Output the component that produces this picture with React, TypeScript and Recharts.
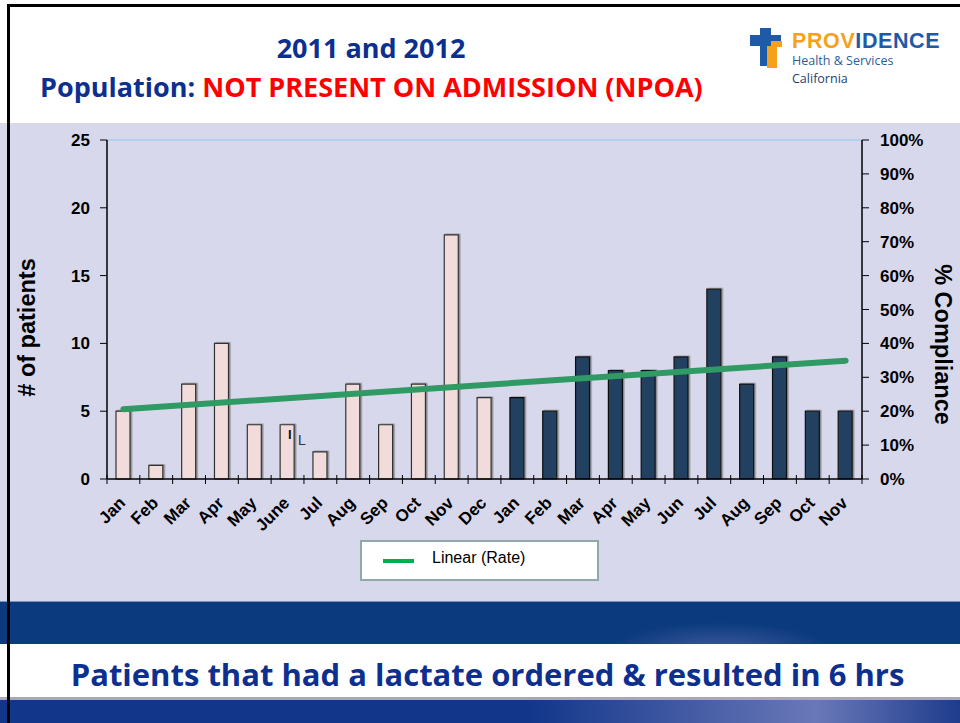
import React from 'react';
import { ComposedChart, Bar, Line, XAxis, YAxis, Cell, ReferenceLine, Legend, Label } from 'recharts';

const monthLabels2011 = ['Jan', 'Feb', 'Mar', 'Apr', 'May', 'June', 'Jul', 'Aug', 'Sep', 'Oct', 'Nov', 'Dec'];
const monthLabels2012 = ['Jan', 'Feb', 'Mar', 'Apr', 'May', 'Jun', 'Jul', 'Aug', 'Sep', 'Oct', 'Nov'];
const patients2011 = [5, 1, 7, 10, 4, 4, 2, 7, 4, 7, 18, 6];
const patients2012 = [6, 5, 9, 8, 8, 9, 14, 7, 9, 5, 5];
const trendStart = 20.6; // % compliance at first month
const trendEnd = 34.9; // % compliance at last month
const leftTicks = [0, 5, 10, 15, 20, 25];
const rightTicks = [0, 10, 20, 30, 40, 50, 60, 70, 80, 90, 100];

const COLOR_2011 = '#f2dcdb';
const COLOR_2012 = '#243f60';
const TREND = '#2f9a63';
const FONT = '"Liberation Sans", Arial, sans-serif';
const NARROW = '"Open Sans", "Liberation Sans", Arial, sans-serif';

type Row = { key: string; label: string; year: number; patients: number; trend: number | null };

const rows: Row[] = [
  ...monthLabels2011.map((m, i) => ({ key: `${m}-2011`, label: m, year: 2011, patients: patients2011[i], trend: null as number | null })),
  ...monthLabels2012.map((m, i) => ({ key: `${m}-2012`, label: m, year: 2012, patients: patients2012[i], trend: null as number | null })),
];
rows[0].trend = trendStart;
rows[rows.length - 1].trend = trendEnd;

const XTick = (props: any) => {
  const { x, y, payload, index } = props;
  const half = 755 / rows.length / 2;
  const i = payload.index ?? index;
  const label = rows[i]?.label ?? '';
  const isLast = i === rows.length - 1;
  return (
    <g>
      <line x1={x - half} x2={x - half} y1={y - 12} y2={y - 3} stroke="#000" strokeWidth={1} />
      {isLast && <line x1={x + half} x2={x + half} y1={y - 12} y2={y - 3} stroke="#000" strokeWidth={1} />}
      <text
        x={0}
        y={0}
        transform={`translate(${x + 3},${y + 17}) rotate(-45)`}
        textAnchor="end"
        fontFamily={FONT}
        fontWeight="bold"
        fontSize={17}
        fill="#000"
      >
        {label}
      </text>
    </g>
  );
};

const LegendBox = () => (
  <div
    style={{
      width: 235,
      height: 37,
      background: '#fff',
      border: '2px solid #8fa8a8',
      position: 'relative',
      fontFamily: FONT,
    }}
  >
    <div style={{ position: 'absolute', left: 21, top: 17, width: 31, height: 4, background: '#00b050' }} />
    <div style={{ position: 'absolute', left: 70, top: 7, fontSize: 16, color: '#000' }}>Linear (Rate)</div>
  </div>
);

export default function App() {
  return (
    <div style={{ position: 'absolute', left: 0, top: 0, width: 960, height: 723, overflow: 'hidden', background: '#fff' }}>
      {/* chart background */}
      <div style={{ position: 'absolute', left: 0, top: 123, width: 960, height: 478, background: '#d8d8ec' }} />
      {/* bottom bands */}
      <div
        style={{
          position: 'absolute', left: 0, top: 601, width: 960, height: 43,
          background: 'radial-gradient(ellipse 160px 40px at 720px 48px, #3d5a9c 0%, #0b3a7e 70%), #0b3a7e',
          borderTop: '1px solid #7d8fbf',
        }}
      />
      <div style={{ position: 'absolute', left: 0, top: 644, width: 960, height: 53, background: '#fff' }} />
      <div style={{ position: 'absolute', left: 0, top: 697, width: 960, height: 3, background: '#a9a9a9' }} />
      <div
        style={{
          position: 'absolute', left: 0, top: 700, width: 960, height: 23,
          background: 'linear-gradient(90deg, #12368a 0%, #12368a 55%, #6a78b8 85%, #1d3c8c 100%)',
        }}
      />
      <div
        style={{
          position: 'absolute', left: 0, top: 653, width: 975, textAlign: 'center',
          fontFamily: NARROW, fontWeight: 'bold', fontSize: 31, color: '#0d2f8f',
        }}
      >
        Patients that had a lactate ordered &amp; resulted in 6 hrs
      </div>

      {/* header */}
      <div
        style={{
          position: 'absolute', left: 0, top: 29, width: 742, textAlign: 'center',
          fontFamily: NARROW, fontWeight: 'bold', fontSize: 27, color: '#0d2f8f',
        }}
      >
        2011 and 2012
      </div>
      <div
        style={{
          position: 'absolute', left: 40, top: 68, whiteSpace: 'nowrap',
          fontFamily: NARROW, fontWeight: 'bold', fontSize: 27, color: '#0d2f8f',
        }}
      >
        Population: <span style={{ color: '#ff0000' }}>NOT PRESENT ON ADMISSION (NPOA)</span>
      </div>

      {/* logo */}
      <svg style={{ position: 'absolute', left: 745, top: 24 }} width={210} height={64}>
        <rect x={15} y={4} width={11} height={38} fill="#1e5aa6" />
        <rect x={5} y={11} width={31} height={11} fill="#1e5aa6" />
        <rect x={22} y={22} width={10} height={22} fill="#f6a11c" />
        <rect x={26} y={17} width={11} height={6} fill="#f6a11c" />
        <text x={47} y={24} fontFamily={FONT} fontWeight={900} fontSize={21.5} letterSpacing={0.6}>
          <tspan fill="#f6a11c">PROV</tspan>
          <tspan fill="#1e5aa6">IDENCE</tspan>
        </text>
        <text x={47} y={41} fontFamily={NARROW} fontSize={12.5} fill="#2a5d9c">Health &amp; Services</text>
        <text x={47} y={59} fontFamily={NARROW} fontSize={12.5} fill="#1d3f75">California</text>
      </svg>

      {/* frame */}
      <div style={{ position: 'absolute', left: 7, top: 4, width: 970, height: 716, borderTop: '3px solid #000', borderLeft: '3px solid #000', borderBottom: '2px solid #000' }} />

      <div style={{ position: 'absolute', left: 0, top: 0 }}>
        <ComposedChart
          width={960}
          height={723}
          data={rows}
          margin={{ top: 140, right: 38, bottom: 184, left: 47 }}
        >
          <defs>
            <filter id="barShadow" x="-30%" y="-10%" width="160%" height="120%">
              <feDropShadow dx={1.5} dy={-0.5} stdDeviation={0.6} floodColor="#666" floodOpacity={0.7} />
            </filter>
          </defs>
          <XAxis
            dataKey="key"
            xAxisId="x"
            height={60}
            interval={0}
            tick={<XTick />}
            tickLine={false}
            axisLine={{ stroke: '#000', strokeWidth: 1.5 }}
          />
          <YAxis
            yAxisId="left"
            width={60}
            domain={[0, 25]}
            ticks={leftTicks}
            interval={0}
            tickSize={7}
            tickMargin={10}
            axisLine={{ stroke: '#000', strokeWidth: 1.5 }}
            tickLine={{ stroke: '#000' }}
            tick={{ fill: '#000', fontFamily: FONT, fontWeight: 'bold', fontSize: 17 }}
          >
            <Label
              content={(p: any) => {
                const vb = p.viewBox;
                const cx = vb.x - 20;
                const cy = vb.y + vb.height / 2 + 18;
                return (
                  <text x={cx} y={cy} transform={`rotate(-90, ${cx}, ${cy})`} textAnchor="middle" dominantBaseline="central"
                    fontFamily={FONT} fontWeight="bold" fontSize={23.5} fill="#000">
                    # of patients
                  </text>
                );
              }}
            />
          </YAxis>
          <YAxis
            yAxisId="right"
            orientation="right"
            width={60}
            domain={[0, 100]}
            ticks={rightTicks}
            interval={0}
            tickSize={7}
            tickMargin={11}
            tickFormatter={(v: number) => `${v}%`}
            axisLine={{ stroke: '#000', strokeWidth: 1.5 }}
            tickLine={{ stroke: '#000' }}
            tick={{ fill: '#000', fontFamily: FONT, fontWeight: 'bold', fontSize: 17 }}
          >
            <Label
              content={(p: any) => {
                const vb = p.viewBox;
                const cx = vb.x + 81;
                const cy = vb.y + vb.height / 2 + 35;
                return (
                  <text x={cx} y={cy} transform={`rotate(90, ${cx}, ${cy})`} textAnchor="middle" dominantBaseline="central"
                    fontFamily={FONT} fontWeight="bold" fontSize={23.5} fill="#000">
                    % Compliance
                  </text>
                );
              }}
            />
          </YAxis>
          <ReferenceLine yAxisId="left" xAxisId="x" y={25} stroke="#a9cdf2" strokeWidth={1.5} />
          <Bar
            dataKey="patients"
            yAxisId="left"
            xAxisId="x"
            barSize={14}
            isAnimationActive={false}
            stroke="#222"
            strokeWidth={1.2}
            name="Patients"
            style={{ filter: 'url(#barShadow)' }}
          >
            {rows.map((r) => (
              <Cell key={r.key} fill={r.year === 2011 ? COLOR_2011 : COLOR_2012} stroke={r.year === 2011 ? '#333' : '#111'} />
            ))}
          </Bar>
          <Line
            dataKey="trend"
            yAxisId="right"
            xAxisId="x"
            connectNulls
            dot={false}
            activeDot={false}
            stroke={TREND}
            strokeWidth={6}
            strokeLinecap="round"
            isAnimationActive={false}
            name="Linear (Rate)"
            legendType="line"
          />
          <Legend
            layout="horizontal"
            verticalAlign="middle"
            align="center"
            wrapperStyle={{ left: 360, top: 540, width: 239, height: 41 }}
            content={() => <LegendBox />}
          />
        </ComposedChart>
      </div>

      {/* small stray marks near June */}
      <div style={{ position: 'absolute', left: 288, top: 427, fontFamily: FONT, fontWeight: 'bold', fontSize: 13, color: '#111' }}>I</div>
      <div style={{ position: 'absolute', left: 298, top: 432, fontFamily: FONT, fontSize: 14, color: '#333' }}>L</div>
    </div>
  );
}
